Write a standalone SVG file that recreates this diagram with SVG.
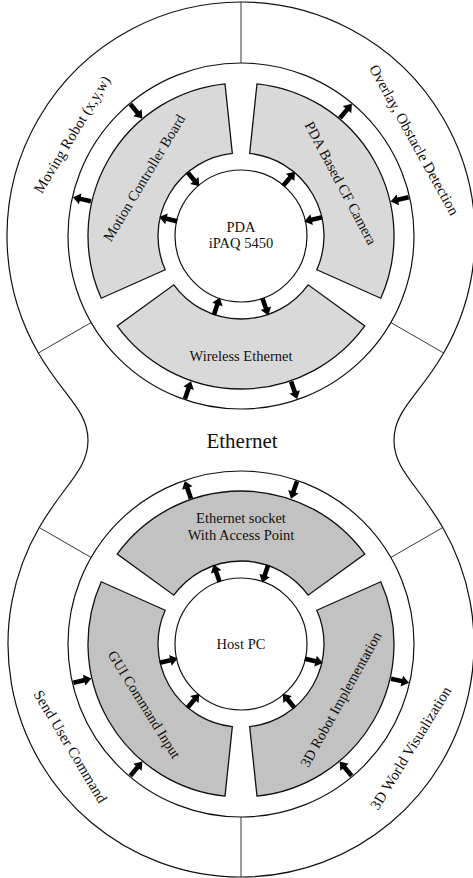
<svg xmlns="http://www.w3.org/2000/svg" xmlns:xlink="http://www.w3.org/1999/xlink" width="473" height="878" viewBox="0 0 473 878">
<style>
.bg{fill:#ffffff}
.outline{fill:none;stroke:#111;stroke-width:1.2}
.ring{fill:none;stroke:#111;stroke-width:1.2}
.core{fill:#ffffff;stroke:#111;stroke-width:1.2}
.divider{fill:none;stroke:#222;stroke-width:0.9}
.segA{fill:#d9d9d9;stroke:#111;stroke-width:1.3}
.segB{fill:#c2c2c2;stroke:#111;stroke-width:1.3}
.arrow{fill:#000}
text{font-family:"Liberation Serif","Times New Roman",serif;fill:#111}
.t{font-size:14.5px;text-anchor:middle}
.lbl{font-size:15px;text-anchor:middle}
.big{font-size:21px;text-anchor:middle}
</style>
<defs>
<path id="arr" d="M-9,-2.3 H2 V-5.5 L9.5,0 L2,5.5 V2.3 H-9 Z"/>
</defs>
<rect class="bg" x="0" y="0" width="473" height="878"/>

<g id="outer-shape">
<path class="outline" d="M38.35,353 A234,234 0 1 1 443.65,353 C418.65,396.3 394,410 394,440.25 C394,470 417.78,484.2 442.78,527.5 A233,233 0 1 1 39.22,527.5 C64.22,484.2 88,470 88,440.25 C88,410 63.35,396.3 38.35,353 Z"/>
</g>

<g id="dividers">
<line class="divider" x1="241" y1="2" x2="241" y2="63"/>
<line class="divider" x1="91.18" y1="322.5" x2="38.35" y2="353"/>
<line class="divider" x1="390.82" y1="322.5" x2="443.65" y2="353"/>
<line class="divider" x1="91.18" y1="557.5" x2="39.22" y2="527.5"/>
<line class="divider" x1="390.82" y1="557.5" x2="442.78" y2="527.5"/>
<line class="divider" x1="241" y1="817" x2="241" y2="877"/>
</g>

<g id="top-ring"><circle class="ring" cx="241" cy="236" r="173"/></g>
<g id="bottom-ring"><circle class="ring" cx="241" cy="644" r="173"/></g>

<g id="label-moving-robot"><text class="lbl" transform="translate(72.1,134.5) rotate(-59)" dy="5">Moving Robot (x,y,w)</text></g>
<g id="label-overlay"><text class="lbl" transform="translate(414.2,140) rotate(61)" dy="5">Overlay, Obstacle Detection</text></g>
<g id="label-ethernet"><text class="big" x="242" y="448">Ethernet</text></g>
<g id="label-send-user"><text class="lbl" transform="translate(70.4,746.5) rotate(59)" dy="5">Send User Command</text></g>
<g id="label-3d-world"><text class="lbl" transform="translate(410.7,748) rotate(-58.5)" dy="5">3D World Visualization</text></g>

<g id="motion-controller">
<path class="segA" d="M101.23,298.23 A153,153 0 0 1 225.01,83.84 L232.33,153.46 A83,83 0 0 0 165.18,269.76 Z"/>
<text class="t" transform="translate(144.1,177.8) rotate(-59)" dy="5">Motion Controller Board</text>
</g>
<g id="cf-camera">
<path class="segA" d="M256.99,83.84 A153,153 0 0 1 380.77,298.23 L316.82,269.76 A83,83 0 0 0 249.67,153.46 Z"/>
<text class="t" transform="translate(340.8,183) rotate(62)" dy="5">PDA Based CF Camera</text>
</g>
<g id="wireless-ethernet">
<path class="segA" d="M364.78,325.93 A153,153 0 0 1 117.22,325.93 L173.85,284.79 A83,83 0 0 0 308.15,284.79 Z"/>
<text class="t" x="241" y="361">Wireless Ethernet</text>
</g>
<g id="pda">
<circle class="core" cx="241" cy="236" r="66"/>
<text class="t" x="241" y="232">PDA</text>
<text class="t" x="241" y="248">iPAQ 5450</text>
</g>

<g id="ethernet-socket">
<path class="segB" d="M117.22,554.07 A153,153 0 0 1 364.78,554.07 L308.15,595.21 A83,83 0 0 0 173.85,595.21 Z"/>
<text class="t" x="241" y="523">Ethernet socket</text>
<text class="t" x="241" y="540">With Access Point</text>
</g>
<g id="gui-command">
<path class="segB" d="M225.01,796.16 A153,153 0 0 1 101.23,581.77 L165.18,610.24 A83,83 0 0 0 232.33,726.54 Z"/>
<text class="t" transform="translate(144.3,704.4) rotate(58)" dy="5">GUI Command Input</text>
</g>
<g id="robot-3d">
<path class="segB" d="M380.77,581.77 A153,153 0 0 1 256.99,796.16 L249.67,726.54 A83,83 0 0 0 316.82,610.24 Z"/>
<text class="t" transform="translate(340.7,699.3) rotate(-61)" dy="5">3D Robot Implementation</text>
</g>
<g id="host-pc">
<circle class="core" cx="241" cy="644" r="66"/>
<text class="t" x="241" y="649">Host PC</text>
</g>

<g id="connectors" class="arrow">
<use xlink:href="#arr" href="#arr" transform="translate(136.22,111.14) rotate(50)"/>
<use xlink:href="#arr" href="#arr" transform="translate(193.11,178.93) rotate(50)"/>
<use xlink:href="#arr" href="#arr" transform="translate(82.17,199.33) rotate(193)"/>
<use xlink:href="#arr" href="#arr" transform="translate(168.41,219.24) rotate(193)"/>
<use xlink:href="#arr" href="#arr" transform="translate(345.78,111.14) rotate(310)"/>
<use xlink:href="#arr" href="#arr" transform="translate(288.89,178.93) rotate(310)"/>
<use xlink:href="#arr" href="#arr" transform="translate(399.83,199.33) rotate(167)"/>
<use xlink:href="#arr" href="#arr" transform="translate(313.59,219.24) rotate(167)"/>
<use xlink:href="#arr" href="#arr" transform="translate(187.93,390.12) rotate(289)"/>
<use xlink:href="#arr" href="#arr" transform="translate(216.74,306.44) rotate(289)"/>
<use xlink:href="#arr" href="#arr" transform="translate(294.07,390.12) rotate(71)"/>
<use xlink:href="#arr" href="#arr" transform="translate(265.26,306.44) rotate(71)"/>

<use xlink:href="#arr" href="#arr" transform="translate(187.93,489.88) rotate(251)"/>
<use xlink:href="#arr" href="#arr" transform="translate(216.74,573.56) rotate(251)"/>
<use xlink:href="#arr" href="#arr" transform="translate(294.07,489.88) rotate(109)"/>
<use xlink:href="#arr" href="#arr" transform="translate(265.26,573.56) rotate(109)"/>
<use xlink:href="#arr" href="#arr" transform="translate(82.17,680.67) rotate(347)"/>
<use xlink:href="#arr" href="#arr" transform="translate(168.41,660.76) rotate(347)"/>
<use xlink:href="#arr" href="#arr" transform="translate(136.22,768.86) rotate(310)"/>
<use xlink:href="#arr" href="#arr" transform="translate(193.11,701.07) rotate(310)"/>
<use xlink:href="#arr" href="#arr" transform="translate(399.83,680.67) rotate(13)"/>
<use xlink:href="#arr" href="#arr" transform="translate(313.59,660.76) rotate(13)"/>
<use xlink:href="#arr" href="#arr" transform="translate(345.78,768.86) rotate(230)"/>
<use xlink:href="#arr" href="#arr" transform="translate(288.89,701.07) rotate(230)"/>
</g>
</svg>
